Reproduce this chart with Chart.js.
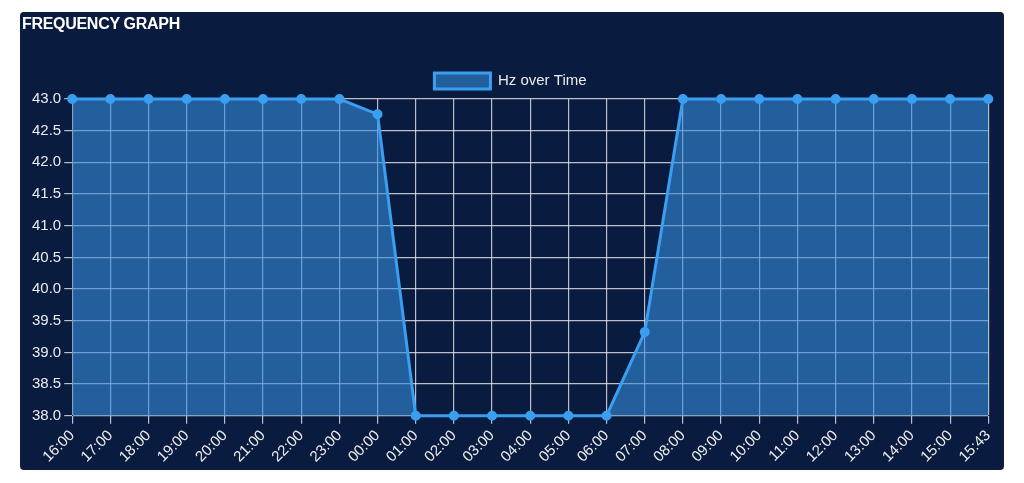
<!DOCTYPE html>
<html>
<head>
<meta charset="utf-8">
<script src="https://cdn.jsdelivr.net/npm/chart.js@4"></script>
<style>
  body { margin: 0; background: #ffffff; width: 1024px; height: 483px; overflow: hidden; }
  .card {
    position: absolute; left: 20px; top: 12px; width: 984px; height: 458px;
    background: #091b3f; border-radius: 4px;
  }
  .card h3 {
    position: absolute; left: 2px; top: 3px; margin: 0; z-index: 2;
    font: bold 16px "Liberation Sans", Arial, sans-serif; color: #ffffff;
    letter-spacing: -0.3px;
  }
  .wrap { position: absolute; left: 0; top: 0; width: 984px; height: 458px; }
</style>
</head>
<body>
<div class="card">
  <h3>FREQUENCY GRAPH</h3>
  <div class="wrap"><canvas id="freq"></canvas></div>
</div>
<script>
const timeLabels = ['16:00', '17:00', '18:00', '19:00', '20:00', '21:00', '22:00', '23:00',
  '00:00', '01:00', '02:00', '03:00', '04:00', '05:00', '06:00', '07:00',
  '08:00', '09:00', '10:00', '11:00', '12:00', '13:00', '14:00', '15:00', '15:43'];
const hzValues = [43, 43, 43, 43, 43, 43, 43, 43,
  42.76, 38, 38, 38, 38, 38, 38, 39.32,
  43, 43, 43, 43, 43, 43, 43, 43, 43];

const lineBlue = '#3a9ff0';
const fillBlue = 'rgba(54, 140, 220, 0.6)';
const gridColor = 'rgba(232, 232, 238, 0.8)';
const textColor = '#ececec';

const ctx = document.getElementById('freq').getContext('2d');
new Chart(ctx, {
  type: 'line',
  data: {
    labels: timeLabels,
    datasets: [{
      label: 'Hz over Time',
      data: hzValues,
      borderColor: lineBlue,
      backgroundColor: fillBlue,
      borderWidth: 3,
      pointRadius: 4,
      pointBorderWidth: 2,
      pointBackgroundColor: lineBlue,
      pointBorderColor: lineBlue,
      tension: 0,
      fill: true,
      clip: false
    }]
  },
  options: {
    responsive: true,
    maintainAspectRatio: false,
    animation: false,
    layout: { padding: { left: 9, right: 12, top: 51, bottom: 1 } },
    plugins: {
      legend: {
        labels: {
          color: textColor,
          boxWidth: 56,
          boxHeight: 16,
          font: { family: 'Liberation Sans', size: 15 }
        }
      },
      tooltip: { enabled: false }
    },
    scales: {
      x: {
        ticks: {
          color: textColor,
          maxRotation: 45,
          minRotation: 45,
          autoSkip: false,
          font: { family: 'Liberation Sans', size: 15 }
        },
        grid: { color: gridColor, lineWidth: 1.2, tickLength: 8 }
      },
      y: {
        min: 38,
        max: 43,
        ticks: {
          stepSize: 0.5,
          color: textColor,
          font: { family: 'Liberation Sans', size: 15 },
          callback: v => v.toFixed(1)
        },
        grid: { color: gridColor, lineWidth: 1.2, tickLength: 8 }
      }
    }
  }
});
</script>
</body>
</html>
